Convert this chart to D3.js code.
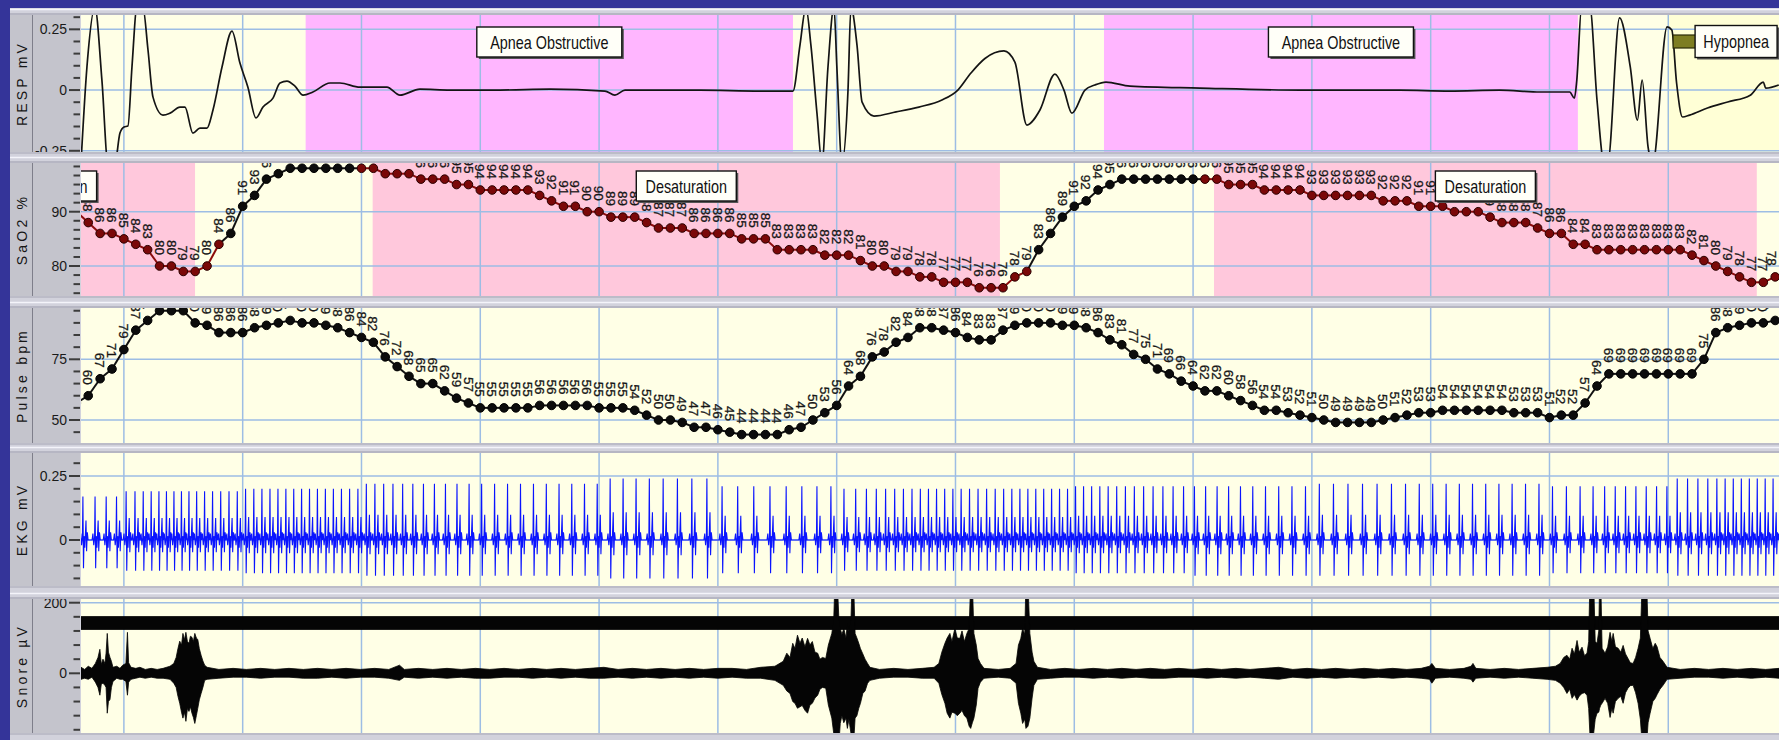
<!DOCTYPE html>
<html>
<head>
<meta charset="utf-8">
<script src="https://cdn.jsdelivr.net/npm/d3@7"></script>
<style>
  html, body { margin: 0; padding: 0; background: #343499; overflow: hidden; }
  svg { display: block; }
  text { font-family: "Liberation Sans", Arial, sans-serif; }
</style>
</head>
<body>
<svg id="chart" width="1779" height="740"></svg>
<script>
// ---------------------------------------------------------------
// Recording window: seconds, 1 Hz oximeter samples start at t = -1
// ---------------------------------------------------------------
const sampleStart = -1;

// SaO2 (%) one value per second, t = -1 .. 142
const sao2Values = [90,
  88,86,86,85,84,83,80,80,79,79,
  80,84,86,91,93,96,97,98,98,98,
  98,98,98,98,98,97,97,97,96,96,
  96,95,95,94,94,94,94,94,93,92,
  91,91,90,90,89,89,89,88,87,87,
  87,86,86,86,86,85,85,85,83,83,
  83,83,82,82,82,81,80,80,79,79,
  78,78,77,77,77,76,76,76,78,79,
  83,86,89,91,92,94,95,96,96,96,
  96,96,96,96,96,96,95,95,95,94,
  94,94,94,93,93,93,93,93,93,92,
  92,92,91,91,91,90,90,90,89,88,
  88,88,87,86,86,84,84,83,83,83,
  83,83,83,83,83,82,81,80,79,78,
  77,77,78];

// Pulse (bpm) one value per second, t = -1 .. 142
const pulseValues = [57,
  60,67,71,79,87,91,95,95,95,90,
  89,86,86,86,88,89,90,91,90,90,
  89,88,86,84,82,76,72,68,65,65,
  62,59,57,55,55,55,55,55,56,56,
  56,56,56,55,55,55,54,52,50,50,
  49,47,47,46,45,44,44,44,44,46,
  47,50,53,56,64,68,76,78,82,84,
  88,88,87,86,84,83,83,87,89,90,
  90,90,89,89,88,86,83,81,77,75,
  71,69,66,64,62,62,60,58,56,54,
  54,53,52,51,50,49,49,49,49,50,
  51,52,53,53,54,54,54,54,54,54,
  53,53,53,51,52,52,57,64,69,69,
  69,69,69,69,69,69,75,86,88,89,
  90,90,91];

// SaO2 samples scored inside a desaturation (first, last sample second)
const sao2FlaggedRanges = [[-1, 11], [23, 79], [94, 142]];

// Scored events (start s, end s)
const apneaEvents = [[18.30, 59.32], [85.50, 125.39]];
const apneaLabels = ["Apnea Obstructive", "Apnea Obstructive"];
const hypopneaEvents = [[132.9, 160]];
const hypopneaLabels = ["Hypopnea"];
const desatEvents = [[-16.0, 8.99], [23.94, 76.74], [94.76, 140.45]];
const desatLabels = ["Desaturation", "Desaturation", "Desaturation"];

// 10-second epoch grid
const timeGridTicks = [3, 13, 23, 33, 43, 53, 63, 73, 83, 93, 103, 113, 123, 133];

// Respiratory effort trace [seconds, mV]
const respTrace = [
  [-0.61,-0.30],[-0.11,0.095],[0.56,0.34],[1.15,0.041],[1.66,-0.30],[2.25,-0.30],
  [2.67,-0.177],[3.01,-0.152],[3.34,-0.148],[3.68,0.095],[4.10,0.34],[4.60,0.34],
  [5.03,0.165],[5.45,-0.029],[6.29,-0.103],[6.88,-0.095],[7.72,-0.070],[8.14,-0.070],
  [8.81,-0.177],[9.40,-0.157],[9.99,-0.157],[10.50,-0.082],[11.26,0.095],[12.10,0.243],
  [12.77,0.111],[13.44,0.012],[14.12,-0.115],[14.71,-0.070],[15.55,-0.033],[16.14,0.029],
  [16.73,0.037],[17.40,0.016],[18.08,-0.021],[18.91,-0.008],[20.35,0.029],[21.19,0.029],
  [22.87,0.012],[25.14,0.012],[26.24,-0.021],[27.92,0.004],[30.45,0.0],[34.66,0.0],
  [38.87,0.004],[43.49,-0.004],[44.33,-0.021],[45.18,0.0],[51.49,0.0],[56.54,-0.004],
  [59.07,-0.004],[59.32,-0.004],[59.91,0.185],[60.41,0.34],[60.83,0.185],[61.34,-0.095],
  [61.76,-0.30],[62.26,0.09],[62.77,0.34],[63.02,0.09],[63.44,-0.30],[63.95,-0.004],
  [64.20,0.34],[64.71,0.185],[65.14,-0.05],[66.14,-0.107],[68.00,-0.090],[69.92,-0.070],
  [71.86,-0.041],[73.20,0.0],[74.30,0.070],[75.48,0.130],[77.08,0.161],[78.00,0.115],[79.01,-0.144],
  [80.11,-0.082],[81.37,0.066],[82.13,0.0],[82.80,-0.095],[83.90,0.0],[84.74,0.021],
  [85.67,0.033],[87.69,0.016],[93.58,0.008],[102.0,0.0],[110.4,0.0],[114.6,-0.004],
  [118.8,0.0],[122.2,-0.008],[124.7,-0.008],[125.1,-0.033],[125.3,0.041],[125.7,0.34],
  [126.4,0.34],[127.0,-0.041],[127.6,-0.30],[127.9,-0.30],[128.9,0.297],[129.8,0.095],
  [130.4,-0.124],[130.8,0.041],[131.3,-0.235],[131.7,-0.30],[132.9,0.26],[133.3,0.247],
  [133.7,0.029],[134.2,-0.111],[134.8,-0.103],[136.3,-0.074],[138.0,-0.049],[139.9,-0.021],
  [141.0,0.033],[141.2,0.008],[142.3,0.021]
];

// EKG: R-wave height and S-wave depth (mV) per 10 s epoch, epoch 0 = before first grid line
const ekgRPeak  = [0.17,0.19,0.20,0.22,0.22,0.24,0.21,0.20,0.20,0.21,0.21,0.22,0.22,0.21,0.24];
const ekgSDepth = [0.11,0.12,0.13,0.14,0.14,0.15,0.13,0.12,0.12,0.13,0.14,0.14,0.14,0.13,0.14];

// Snore microphone envelope: [seconds, upper µV, lower µV below zero]
const snoreEnvelope = [
  [-0.61,17,17],[-0.3,11,14],[0.0,20,17],[0.31,14,11],[0.6,28,25],[0.82,45,40],[0.98,68,62],
  [1.1,25,30],[1.24,40,28],[1.4,28,34],[1.5,57,40],[1.6,113,113],[1.7,60,80],[1.83,45,74],
  [1.95,34,40],[2.08,17,23],[2.4,20,14],[2.67,14,17],[2.9,23,17],[3.17,28,23],[3.3,116,62],
  [3.4,30,25],[3.6,17,17],[4.0,14,14],[4.35,17,11],[4.8,11,14],[5.3,14,11],[5.8,11,14],
  [6.3,14,14],[6.88,20,17],[7.2,28,28],[7.4,45,40],[7.55,70,65],[7.7,91,85],[7.85,80,110],
  [7.97,113,127],[8.1,95,110],[8.22,116,136],[8.35,90,100],[8.48,85,108],[8.6,105,95],
  [8.73,102,113],[8.85,90,125],[8.97,113,142],[9.1,100,120],[9.22,96,99],[9.35,70,75],
  [9.5,51,57],[9.65,35,40],[9.8,23,20],[10.0,17,17],
  [11.0,11,14],[12.2,14,11],[13.3,11,11],[14.5,14,14],[15.7,11,11],[16.9,14,11],[18.1,11,14],
  [19.3,14,14],[20.5,11,11],[21.7,14,14],[22.9,11,11],[24.1,14,11],[25.3,11,14],[26.2,23,20],
  [26.6,11,11],[27.8,14,14],[29.0,11,11],[30.2,14,14],[31.4,11,11],[32.6,14,14],[33.8,11,14],
  [35.0,14,11],[36.2,11,11],[37.4,14,14],[38.6,11,11],[39.8,14,14],[41.0,11,11],[42.2,14,14],
  [43.4,17,14],[44.6,11,11],[45.8,14,14],[47.0,11,11],[48.2,14,14],[49.4,11,11],[50.6,14,14],
  [51.8,11,11],[53.0,14,14],[54.2,14,11],[55.4,11,14],[56.6,17,14],[57.8,20,20],
  [58.5,34,34],[58.8,57,50],[59.07,45,57],[59.3,85,80],[59.49,70,85],[59.7,108,99],[59.91,85,95],
  [60.1,100,91],[60.33,75,105],[60.55,99,113],[60.75,80,90],[60.95,90,85],[61.17,60,70],
  [61.4,57,62],[61.59,40,45],[61.8,45,40],[62.08,42,42],[62.3,80,90],[62.59,113,127],
  [62.75,150,170],[62.85,260,200],[63.05,260,200],[63.19,150,200],[63.3,127,142],[63.44,110,120],
  [63.6,127,140],[63.78,100,127],[63.9,142,156],[64.03,120,130],[64.2,150,170],[64.3,260,200],
  [64.42,260,200],[64.55,113,127],[64.7,100,120],[64.86,85,99],[65.0,70,85],[65.2,55,57],
  [65.39,40,50],[65.6,28,28],[65.8,17,20],
  [66.6,11,14],[67.8,14,11],[69.0,11,11],[70.2,14,14],[71.2,17,14],[71.6,28,28],[71.85,60,60],
  [72.11,85,85],[72.3,100,113],[72.53,113,127],[72.7,90,110],[72.95,127,113],[73.15,100,120],
  [73.37,99,113],[73.55,120,105],[73.75,90,120],[73.96,113,127],[74.15,127,150],[74.28,260,156],
  [74.42,260,140],[74.55,113,127],[74.75,80,90],[74.9,42,42],[75.1,28,25],[75.4,14,14],
  [76.6,11,11],[77.6,14,14],[78.1,28,28],[78.3,80,85],[78.5,99,113],[78.65,127,142],
  [78.83,110,130],[78.93,260,156],[79.1,260,150],[79.26,113,127],[79.45,60,70],[79.6,34,34],
  [79.9,17,17],
  [81.0,11,14],[82.2,14,11],[83.4,11,11],[84.6,14,14],[85.8,11,11],[87.0,14,14],[88.2,11,11],
  [89.4,14,14],[90.6,11,14],[91.8,14,11],[93.0,11,11],[94.2,14,14],[95.4,11,11],[96.6,14,14],
  [97.8,11,11],[99.0,14,14],[100.2,17,17],[101.4,11,11],[102.6,14,14],[103.8,11,11],[105.0,14,14],
  [106.2,11,11],[107.4,14,14],[108.6,11,11],[109.8,14,14],[111.0,11,11],[112.2,14,14],
  [112.9,20,17],[113.1,28,28],[113.4,14,14],[114.6,11,11],[115.8,14,14],[116.4,20,17],
  [116.56,28,25],[116.8,14,14],[118.0,11,11],[119.2,14,14],[120.4,11,11],[121.6,14,14],
  [122.8,17,17],[123.5,20,20],
  [123.9,28,28],[124.2,45,40],[124.47,51,57],[124.7,40,45],[124.9,71,71],[125.1,55,60],
  [125.32,93,76],[125.5,60,65],[125.74,74,57],[125.95,50,55],[126.16,57,62],[126.3,90,100],
  [126.4,260,170],[126.72,260,170],[126.85,90,130],[127.0,85,113],[127.15,120,110],
  [127.22,260,99],[127.32,260,90],[127.43,71,85],[127.68,57,71],[127.9,75,85],[128.1,116,125],
  [128.25,90,100],[128.36,113,113],[128.55,75,80],[128.78,71,71],[129.0,60,65],[129.2,79,85],
  [129.4,55,55],[129.61,42,42],[129.8,30,35],[130.04,28,34],[130.25,45,55],[130.46,71,85],
  [130.65,100,130],[130.8,260,200],[131.18,260,200],[131.3,120,140],[131.47,99,113],
  [131.7,70,80],[131.9,85,71],[132.06,75,60],[132.3,45,45],[132.56,34,34],[132.9,17,17],
  [134.0,11,14],[135.2,14,11],[136.4,11,11],[137.6,14,14],[138.8,11,11],[140.0,14,14],
  [141.2,11,11],[142.33,14,14]
];
// Clipped upper channel band (µV)
const snoreBand = [123, 162];

// ---------------------------------------------------------------
const W = 1779, H = 740;
const plotLeft = 81, plotRight = 1779;
const svg = d3.select("#chart");
const defs = svg.append("defs");

const x = d3.scaleLinear().domain([-0.61, 142.32]).range([plotLeft, plotRight]);

const panels = [
  { id: "resp",  label: "RESP mV",   top: 15,  bottom: 152, domain: [-0.255, 0.309], major: [0.25, 0, -0.25], minorStep: 0.05,   fmt: d => d === 0 ? "0" : d.toFixed(2) },
  { id: "sao2",  label: "SaO2 %",    top: 163, bottom: 296, domain: [74.48, 98.97],  major: [90, 80],         minorStep: 10 / 6, fmt: d => String(d) },
  { id: "pulse", label: "Pulse bpm", top: 308, bottom: 443, domain: [40.53, 96.13],  major: [75, 50],         minorStep: 5,      fmt: d => String(d) },
  { id: "ekg",   label: "EKG mV",    top: 453, bottom: 586, domain: [-0.1797, 0.3398], major: [0.25, 0],      minorStep: 0.05,   fmt: d => d === 0 ? "0" : d.toFixed(2) },
  { id: "snore", label: "Snore µV",  top: 599, bottom: 733, domain: [-169.1, 210.5], major: [200, 0],         minorStep: 40,     fmt: d => String(d) }
];
const P = {};
panels.forEach(p => {
  p.y = d3.scaleLinear().domain(p.domain).range([p.bottom, p.top]);
  P[p.id] = p;
  defs.append("clipPath").attr("id", "clip-" + p.id)
    .append("rect").attr("x", plotLeft).attr("y", p.top)
    .attr("width", plotRight - plotLeft).attr("height", p.bottom - p.top);
  defs.append("clipPath").attr("id", "lclip-" + p.id)
    .append("rect").attr("x", 33).attr("y", p.top)
    .attr("width", 47).attr("height", p.bottom - p.top);
});

// page frame
svg.append("rect").attr("width", W).attr("height", H).attr("fill", "#343499");
svg.append("rect").attr("x", 10).attr("y", 8).attr("width", W - 10).attr("height", H - 8).attr("fill", "#d2d2dc");

// panel chrome
panels.forEach(p => {
  const h = p.bottom - p.top;
  svg.append("line").attr("x1", 10).attr("x2", W).attr("y1", p.top - 5.5).attr("y2", p.top - 5.5)
    .attr("stroke", "#f4f4fa").attr("stroke-width", 1.5);
  svg.append("line").attr("x1", 10).attr("x2", W).attr("y1", p.top - 1).attr("y2", p.top - 1)
    .attr("stroke", "#9a9aaa").attr("stroke-width", 1);
  svg.append("line").attr("x1", 10).attr("x2", W).attr("y1", p.bottom + 1).attr("y2", p.bottom + 1)
    .attr("stroke", "#b4b4c2").attr("stroke-width", 1.5);
  svg.append("rect").attr("x", 10).attr("y", p.top).attr("width", 70).attr("height", h).attr("fill", "#c4c4cc");
  svg.append("line").attr("x1", 32.5).attr("x2", 32.5).attr("y1", p.top).attr("y2", p.bottom)
    .attr("stroke", "#7e7e8a").attr("stroke-width", 1);
  svg.append("rect").attr("x", plotLeft).attr("y", p.top).attr("width", plotRight - plotLeft).attr("height", h)
    .attr("fill", "#ffffe6");
  svg.append("text")
    .attr("transform", `translate(22,${(p.top + p.bottom) / 2}) rotate(-90)`)
    .attr("text-anchor", "middle").attr("dominant-baseline", "central")
    .attr("font-size", 14).attr("letter-spacing", "3.2px").attr("fill", "#151515")
    .text(p.label);
});

// panel groups clipped to plot area
const G = {};
panels.forEach(p => { G[p.id] = svg.append("g").attr("clip-path", `url(#clip-${p.id})`); });

// event shading
apneaEvents.forEach(e => {
  G.resp.append("rect").attr("x", x(e[0])).attr("y", P.resp.top)
    .attr("width", x(e[1]) - x(e[0])).attr("height", P.resp.bottom - P.resp.top).attr("fill", "#ffb6ff");
});
hypopneaEvents.forEach(e => {
  G.resp.append("rect").attr("x", x(e[0])).attr("y", P.resp.top)
    .attr("width", x(e[1]) - x(e[0])).attr("height", P.resp.bottom - P.resp.top).attr("fill", "#ffffd6");
});
desatEvents.forEach(e => {
  G.sao2.append("rect").attr("x", x(e[0])).attr("y", P.sao2.top)
    .attr("width", x(e[1]) - x(e[0])).attr("height", P.sao2.bottom - P.sao2.top).attr("fill", "#ffc8dc");
});

// grid
const gridColor = "#9dbde4";
panels.forEach(p => {
  const g = G[p.id];
  timeGridTicks.forEach(t => {
    g.append("line").attr("x1", x(t)).attr("x2", x(t)).attr("y1", p.top).attr("y2", p.bottom)
      .attr("stroke", gridColor).attr("stroke-width", 1.5);
  });
  p.major.forEach(v => {
    g.append("line").attr("x1", plotLeft).attr("x2", plotRight).attr("y1", p.y(v)).attr("y2", p.y(v))
      .attr("stroke", gridColor).attr("stroke-width", 1.5);
  });
});

// y axes: minor + major ticks and labels
panels.forEach(p => {
  const [lo, hi] = p.domain;
  const base = p.major[p.major.length - 1];
  const kStart = Math.ceil((lo - base) / p.minorStep - 1e-6);
  const kEnd = Math.floor((hi - base) / p.minorStep + 1e-6);
  const ax = svg.append("g").attr("clip-path", `url(#lclip-${p.id})`);
  for (let k = kStart; k <= kEnd; k++) {
    const v = base + k * p.minorStep;
    const isMajor = p.major.some(m => Math.abs(m - v) < 1e-6);
    ax.append("line").attr("x1", isMajor ? 69 : 73.5).attr("x2", 80)
      .attr("y1", p.y(v)).attr("y2", p.y(v)).attr("stroke", "#3c3c3c").attr("stroke-width", 2);
  }
  p.major.forEach(v => {
    ax.append("text").attr("x", 67).attr("y", p.y(v)).attr("text-anchor", "end")
      .attr("dominant-baseline", "central").attr("font-size", 14).attr("fill", "#1a1a1a")
      .text(p.fmt(v));
  });
});

// RESP trace
G.resp.append("path").datum(respTrace)
  .attr("d", d3.line().x(d => x(d[0])).y(d => P.resp.y(d[1])).curve(d3.curveMonotoneX))
  .attr("fill", "none").attr("stroke", "#141414").attr("stroke-width", 1.7);

// oximetry series with value labels
function drawSampled(g, p, values, flagged) {
  const pts = values.map((v, i) => ({ t: sampleStart + i, v, flag: flagged(sampleStart + i) }));
  for (let i = 1; i < pts.length; i++) {
    const a = pts[i - 1], b = pts[i];
    g.append("line").attr("x1", x(a.t)).attr("y1", p.y(a.v)).attr("x2", x(b.t)).attr("y2", p.y(b.v))
      .attr("stroke", a.flag && b.flag ? "#8c0c0c" : "#111").attr("stroke-width", 2);
  }
  pts.forEach(d => {
    // keep the last label inside the window edge
    const lx = Math.min(x(d.t), W - 7);
    g.append("text")
      .attr("transform", `translate(${lx},${p.y(d.v) - 11}) rotate(90)`)
      .attr("text-anchor", "end").attr("dy", "0.36em")
      .attr("font-size", 13.5).attr("fill", "#161616")
      .attr("stroke", "#161616").attr("stroke-width", 0.3).text(d.v);
  });
  pts.forEach(d => {
    g.append("circle").attr("cx", x(d.t)).attr("cy", p.y(d.v)).attr("r", 4.3)
      .attr("fill", d.flag ? "#7a0808" : "#0c0c0c")
      .attr("stroke", d.flag ? "#2a0000" : "#000").attr("stroke-width", 1);
  });
}
const isFlagged = t => sao2FlaggedRanges.some(r => t >= r[0] && t <= r[1]);
drawSampled(G.sao2, P.sao2, sao2Values, isFlagged);
drawSampled(G.pulse, P.pulse, pulseValues, () => false);

// EKG: beats timed from the pulse series
function pulseAt(t) {
  const f = t - sampleStart;
  const i = Math.max(0, Math.min(pulseValues.length - 2, Math.floor(f)));
  const w = Math.max(0, Math.min(1, f - i));
  return pulseValues[i] * (1 - w) + pulseValues[i + 1] * w;
}
const epochOf = t => t < 3 ? 0 : Math.min(ekgRPeak.length - 1, Math.floor((t - 3) / 10) + 1);
const beats = [];
for (let tb = -0.45; tb < 143; tb += 60 / pulseAt(tb)) beats.push(tb);
const ekgPts = [];
beats.forEach((tb, k) => {
  const r = ekgRPeak[epochOf(tb)], s = ekgSDepth[epochOf(tb)];
  const next = k + 1 < beats.length ? beats[k + 1] - tb : 1;
  const shape = [[-0.25, 0], [-0.18, 0.025], [-0.11, -0.02], [-0.04, 0.01], [0, r], [0.05, -s],
    [0.10, 0.015], [0.16, -0.03], [0.26, 0.45 * r], [0.31, -0.4 * s], [0.37, 0.03], [0.44, 0]];
  shape.forEach(([o, v]) => { if (o < next - 0.25 || k === beats.length - 1) ekgPts.push([tb + o, v]); });
});
G.ekg.append("path").datum(ekgPts)
  .attr("d", d3.line().x(d => x(d[0])).y(d => P.ekg.y(d[1])))
  .attr("fill", "none").attr("stroke", "#0a14ff").attr("stroke-width", 1.1);

// Snore
G.snore.append("rect").attr("x", plotLeft).attr("y", P.snore.y(snoreBand[1]))
  .attr("width", plotRight - plotLeft).attr("height", P.snore.y(snoreBand[0]) - P.snore.y(snoreBand[1]))
  .attr("fill", "#050505");
G.snore.append("path").datum(snoreEnvelope)
  .attr("d", d3.area().x(d => x(d[0])).y0(d => P.snore.y(-d[2])).y1(d => P.snore.y(d[1])))
  .attr("fill", "#050505").attr("stroke", "#050505").attr("stroke-width", 0.8);

// event tags
function tag(g, cx, cy, w, h, label) {
  const t = g.append("g");
  t.append("rect").attr("x", cx - w / 2 + 2).attr("y", cy - h / 2 + 2).attr("width", w).attr("height", h)
    .attr("fill", "#555");
  t.append("rect").attr("x", cx - w / 2).attr("y", cy - h / 2).attr("width", w).attr("height", h)
    .attr("fill", "#fffff8").attr("stroke", "#111").attr("stroke-width", 1.4);
  t.append("text").attr("transform", `translate(${cx},${cy}) scale(0.8,1)`)
    .attr("text-anchor", "middle").attr("dominant-baseline", "central")
    .attr("font-size", 18).attr("fill", "#111").text(label);
}
apneaEvents.forEach((e, i) => tag(G.resp, x((e[0] + e[1]) / 2), 42, 145, 30, apneaLabels[i]));
desatEvents.forEach((e, i) => tag(G.sao2, x((e[0] + e[1]) / 2), 186, 100, 30, desatLabels[i]));
hypopneaEvents.forEach((e, i) => {
  const x0 = x(e[0]);
  G.resp.append("rect").attr("x", x0 + 6).attr("y", 35).attr("width", 24).attr("height", 13)
    .attr("fill", "#7d7d22").attr("stroke", "#2a2a08").attr("stroke-width", 1.2);
  tag(G.resp, x0 + 28 + 41, 41.5, 82, 32, hypopneaLabels[i]);
});
</script>
</body>
</html>
